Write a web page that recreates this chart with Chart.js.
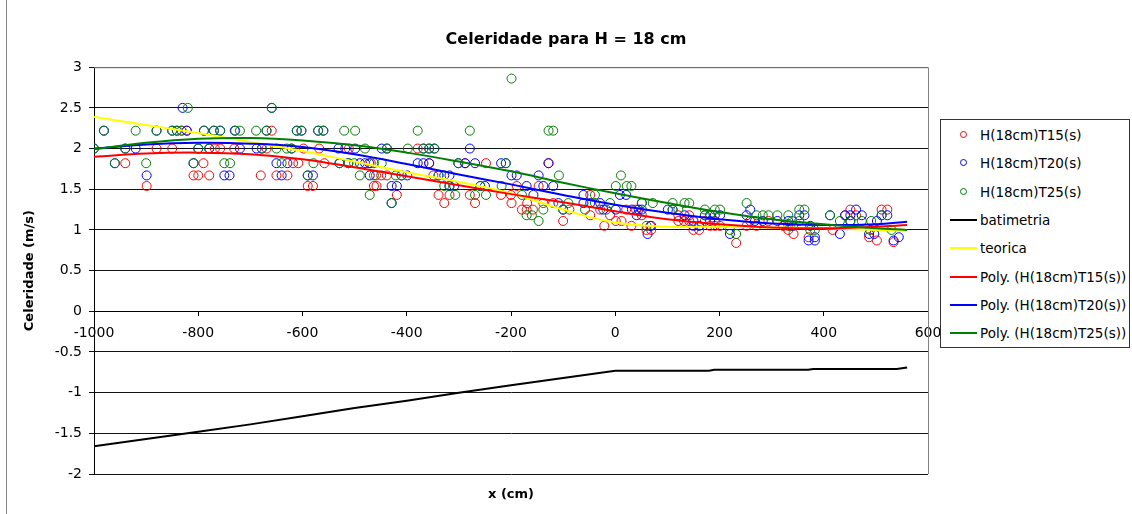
<!DOCTYPE html>
<html>
<head>
<meta charset="utf-8">
<script src="https://cdn.jsdelivr.net/npm/chart.js@4.4.1/dist/chart.umd.min.js"></script>
<style>
  html, body { margin: 0; padding: 0; background: #fff; }
  #wrap { position: relative; width: 1132px; height: 514px; }
  #frame { position: absolute; left: 6px; top: 0; width: 1px; height: 514px; background: #888; }
  #legend { position: absolute; left: 940px; top: 119px; width: 188px; height: 227px;
            border: 1px solid #333; background: #fff; font: 13.5px "DejaVu Sans", sans-serif; color: #000; }
  .row { position: absolute; left: 0; width: 188px; height: 28px; }
  .row span { position: absolute; left: 39px; top: 0; line-height: 28px; white-space: nowrap; }
  .dot { position: absolute; left: 19px; top: 10px; width: 5px; height: 5px; border: 1px solid; border-radius: 50%; }
  .ln { position: absolute; left: 9px; top: 13px; width: 27px; height: 2px; }
</style>
</head>
<body>
<div id="wrap">
  <canvas id="c" width="1132" height="514"></canvas>
  <div id="frame"></div>
  <div id="legend"></div>
</div>
<script>
// measured points, celerity (m/s) vs x (cm)
const xT15 = [-940,-899,-880,-850,-832,-822,-809,-800,-790,-779,-768,-758,-731,-680,-669,-659,-650,-629,-618,-608,-598,-590,-580,-568,-558,-511,-469,-463,-459,-458,-449,-438,-419,-379,-357,-349,-339,-328,-318,-288,-279,-269,-248,-219,-200,-199,-189,-179,-170,-169,-158,-147,-138,-128,-119,-100,-88,-48,-48,-29,-21,-10,1,12,21,31,40,51,60,67,69,121,121,132,142,142,150,161,172,182,191,191,201,232,252,259,271,294,322,332,332,342,371,417,441,451,462,487,502,511,522,534];
const yT15 = [1.82,1.54,2.0,2.0,2.22,2.22,1.67,1.67,1.82,1.67,2.0,2.0,2.0,1.67,2.0,2.22,1.67,1.67,1.82,1.82,2.0,1.54,1.54,2.0,1.82,2.0,1.82,1.54,1.67,1.54,1.67,1.67,1.43,2.0,1.82,1.67,1.43,1.33,1.43,1.82,1.43,1.33,1.82,1.43,1.43,1.33,1.54,1.25,1.25,1.33,1.25,1.54,1.33,1.82,1.33,1.11,1.25,1.43,1.18,1.25,1.05,1.18,1.11,1.11,1.25,1.05,1.25,1.18,1.0,1.05,1.0,1.18,1.11,1.11,1.18,1.11,1.0,1.0,1.11,1.05,1.11,1.05,1.05,0.84,1.05,1.11,1.05,1.11,1.05,1.05,1.0,0.95,0.91,1.0,1.18,1.25,1.18,0.91,0.87,1.25,1.25,0.85];

const xT20 = [-1000,-981,-960,-940,-920,-899,-880,-850,-841,-830,-822,-809,-800,-789,-779,-770,-758,-750,-740,-730,-720,-688,-678,-669,-659,-650,-640,-629,-621,-611,-602,-590,-580,-570,-560,-531,-529,-518,-512,-499,-490,-480,-472,-471,-448,-438,-429,-429,-419,-410,-399,-379,-368,-368,-357,-357,-347,-339,-328,-318,-318,-309,-301,-288,-279,-269,-259,-250,-219,-210,-199,-189,-170,-157,-147,-138,-128,-119,-109,-100,-61,-61,-48,-29,-23,1,9,21,32,41,45,51,51,62,69,101,110,133,150,150,161,172,182,182,191,201,220,252,259,268,283,311,332,341,353,363,371,374,383,383,412,431,441,451,451,462,473,487,497,502,511,522,534,544];
const yT20 = [2.0,2.22,1.82,2.0,2.0,1.67,2.22,2.22,2.22,2.5,2.22,1.82,2.0,2.22,2.0,2.22,2.22,1.67,1.67,2.22,2.0,2.0,2.0,2.22,2.5,1.82,1.67,1.82,2.0,2.22,2.22,1.67,1.67,2.22,2.22,2.0,1.82,2.0,1.82,2.0,1.82,1.82,1.82,1.67,2.0,2.0,1.54,1.33,1.54,1.67,1.67,1.82,2.0,1.82,2.0,1.82,2.0,1.67,1.67,1.67,1.54,1.54,1.82,1.82,2.0,1.82,1.54,1.54,1.82,1.82,1.67,1.67,1.54,1.43,1.67,1.54,1.82,1.54,1.33,1.25,1.43,1.33,1.33,1.33,1.25,1.25,1.43,1.43,1.25,1.18,1.25,1.33,1.25,0.95,1.05,1.25,1.25,1.18,1.11,1.05,1.05,1.18,1.18,1.11,1.18,1.18,0.95,1.18,1.25,1.11,1.11,1.11,1.11,1.05,1.18,1.18,0.87,1.05,0.87,0.91,1.18,0.95,1.18,1.18,1.11,1.25,1.18,0.95,0.95,1.11,1.18,1.18,0.87,0.91];

const xT25 = [-1000,-981,-960,-940,-920,-900,-880,-850,-841,-832,-820,-809,-800,-789,-779,-770,-758,-750,-739,-729,-720,-689,-678,-669,-659,-650,-640,-630,-621,-611,-602,-590,-579,-570,-560,-529,-520,-512,-501,-499,-490,-480,-471,-463,-463,-448,-438,-429,-421,-410,-398,-379,-368,-357,-347,-339,-328,-318,-307,-301,-279,-269,-259,-248,-218,-210,-199,-179,-170,-160,-147,-138,-128,-119,-108,-100,-90,-58,-39,-39,-17,-10,1,11,22,31,51,60,72,110,110,121,133,142,172,172,182,191,201,220,232,252,271,283,294,311,332,336,339,353,353,363,374,383,412,431,451,473,489,491,511,530];
const yT25 = [2.0,2.22,1.82,2.0,2.22,1.82,2.22,2.22,2.22,2.22,2.5,1.82,2.0,2.22,2.0,2.22,2.22,1.82,1.82,2.22,2.22,2.22,2.0,2.22,2.5,2.0,1.82,2.0,2.0,2.22,2.22,1.67,1.82,2.22,2.22,1.82,2.22,1.82,1.82,2.22,1.67,2.0,1.43,1.82,1.67,1.82,2.0,1.33,1.67,1.67,2.0,2.22,2.0,2.0,2.0,1.67,1.54,1.54,1.43,1.82,2.22,1.43,1.54,1.43,1.54,1.82,2.86,1.43,1.18,1.18,1.11,1.25,2.22,2.22,1.67,1.25,1.33,1.25,1.43,1.33,1.25,1.33,1.54,1.67,1.54,1.54,1.33,1.05,1.33,1.33,1.25,1.25,1.33,1.33,1.25,1.18,1.18,1.25,1.25,1.0,0.95,1.33,1.18,1.18,1.18,1.18,1.18,1.05,1.11,1.25,1.11,1.25,1.0,1.0,1.18,1.11,1.11,1.11,1.0,1.11,1.18,1.0];

// bed profile (batimetria)
const xBat = [-1000,-900,-800,-700,-600,-500,-400,-300,-200,-100,0,180,190,370,380,540,560];
const yBat = [-1.66,-1.57,-1.48,-1.39,-1.29,-1.19,-1.10,-1.00,-0.91,-0.82,-0.73,-0.73,-0.72,-0.72,-0.71,-0.71,-0.69];

// theoretical curve and polynomial trend lines
const xCurve = [-1000,-900,-800,-700,-600,-500,-400,-300,-200,-100,0,100,200,300,400,500,560];
const teorica = [2.39,2.29,2.19,2.08,1.97,1.84,1.71,1.59,1.45,1.25,1.09,1.04,1.04,1.03,1.02,1.00,0.99];
const polyT15 = [1.90,1.94,1.95,1.93,1.87,1.77,1.66,1.55,1.44,1.34,1.23,1.13,1.07,1.03,1.02,1.04,1.06];
const polyT20 = [2.00,2.05,2.07,2.06,2.02,1.93,1.81,1.68,1.56,1.43,1.31,1.21,1.13,1.08,1.06,1.07,1.10];
const polyT25 = [1.99,2.07,2.12,2.13,2.10,2.04,1.95,1.84,1.72,1.58,1.45,1.33,1.22,1.13,1.07,1.02,1.00];

const FONT = '"DejaVu Sans", sans-serif';
const pts = (xs, ys) => xs.map((x, i) => ({ x: x, y: ys[i] }));
const plain = v => String(v);

function marks(label, xs, ys, color, order) {
  return { label: label, data: pts(xs, ys), borderColor: color, backgroundColor: 'rgba(0,0,0,0)',
           pointRadius: 4.5, pointBorderWidth: 1, showLine: false, order: order };
}
function curve(label, xs, ys, color, order, tension) {
  return { label: label, data: pts(xs, ys), borderColor: color, backgroundColor: color,
           borderWidth: 2, pointRadius: 0, showLine: true, tension: tension, order: order };
}

const datasets = [
  marks('H(18cm)T15(s)', xT15, yT15, '#ff0000', 10),
  marks('H(18cm)T20(s)', xT20, yT20, '#0000ff', 9),
  marks('H(18cm)T25(s)', xT25, yT25, '#008000', 8),
  curve('batimetria', xBat, yBat, '#000000', 5, 0),
  curve('teorica', xCurve, teorica, '#ffff00', 4, 0.4),
  curve('Poly. (H(18cm)T15(s))', xCurve, polyT15, '#ff0000', 3, 0.4),
  curve('Poly. (H(18cm)T20(s))', xCurve, polyT20, '#0000ff', 2, 0.4),
  curve('Poly. (H(18cm)T25(s))', xCurve, polyT25, '#008000', 1, 0.4)
];

const plotEdge = {
  id: 'plotEdge',
  beforeDatasetsDraw(chart) {
    const a = chart.chartArea, ctx = chart.ctx;
    ctx.save();
    ctx.strokeStyle = '#808080';
    ctx.lineWidth = 1;
    ctx.beginPath();
    ctx.moveTo(a.left, a.top + 0.5);
    ctx.lineTo(a.right + 0.5, a.top + 0.5);
    ctx.lineTo(a.right + 0.5, a.bottom);
    ctx.stroke();
    ctx.restore();
  }
};

new Chart(document.getElementById('c'), {
  type: 'scatter',
  data: { datasets: datasets },
  plugins: [plotEdge],
  options: {
    responsive: false,
    animation: false,
    devicePixelRatio: 1,
    layout: { padding: 0 },
    plugins: {
      legend: { display: false },
      tooltip: { enabled: false },
      title: { display: true, text: 'Celeridade para H = 18 cm', color: '#000',
               font: { family: FONT, size: 16, weight: 'bold' }, padding: { top: 30, bottom: 18 } }
    },
    scales: {
      x: {
        type: 'linear', min: -1000, max: 600, position: 'bottom',
        ticks: { display: false },
        grid: { display: false, drawTicks: false },
        border: { display: false },
        title: { display: true, text: 'x (cm)', color: '#000',
                 font: { family: FONT, size: 13, weight: 'bold' }, padding: { top: 0, bottom: 12 } },
        afterFit(s) { s.height = 40; }
      },
      xz: {
        axis: 'x', type: 'linear', min: -1000, max: 600, position: { y: 0 },
        ticks: { stepSize: 200, color: '#000', font: { family: FONT, size: 14 }, padding: 10,
                 maxRotation: 0, autoSkip: false, callback: plain },
        grid: { drawOnChartArea: false, tickLength: 4, color: '#000' },
        border: { color: '#000' }
      },
      y: {
        min: -2, max: 3,
        ticks: { stepSize: 0.5, color: '#000', font: { family: FONT, size: 14 }, padding: 7, callback: plain },
        grid: { color: '#111', tickLength: 5 },
        border: { color: '#000' },
        title: { display: true, text: 'Celeridade (m/s)', color: '#000',
                 font: { family: FONT, size: 13, weight: 'bold' }, padding: { top: 22 } },
        afterFit(s) { s.width = 94; }
      },
      // empty right-hand axis that only reserves the legend's room
      yr: {
        axis: 'y', position: 'right', min: -2, max: 3,
        ticks: { display: false },
        grid: { display: false, drawTicks: false },
        border: { display: false },
        afterFit(s) { s.width = 204; }
      }
    }
  }
});

// legend box, same look as the spreadsheet legend
const legend = document.getElementById('legend');
datasets.forEach((d, i) => {
  const row = document.createElement('div');
  row.className = 'row';
  row.style.top = (1 + i * 28.33) + 'px';
  const m = document.createElement('div');
  if (d.showLine) { m.className = 'ln'; m.style.background = d.borderColor; }
  else { m.className = 'dot'; m.style.borderColor = d.borderColor; }
  const t = document.createElement('span');
  t.textContent = d.label;
  row.appendChild(m);
  row.appendChild(t);
  legend.appendChild(row);
});
</script>
</body>
</html>
